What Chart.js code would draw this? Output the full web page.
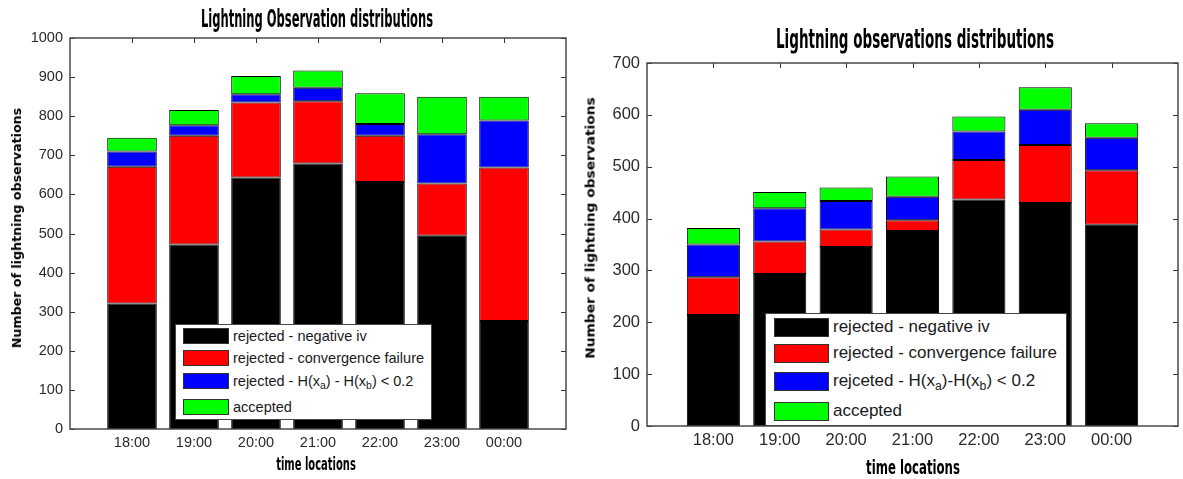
<!DOCTYPE html>
<html>
<head>
<meta charset="utf-8">
<script src="https://cdn.jsdelivr.net/npm/chart.js@4/dist/chart.umd.min.js"></script>
<style>
    body { margin: 0; background: #fff; width: 1183px; height: 479px; position: relative; overflow: hidden; }
    canvas { position: absolute; top: 0; }
    .cond { position: absolute; white-space: nowrap; color: #000; font-weight: bold; line-height: 1; }
    .legend { position: absolute; background: #fff; border: 1px solid #444; box-sizing: border-box; font-family: 'Liberation Sans', Arial, sans-serif; color: #1a1a1a; }
    .legend .row { position: absolute; display: flex; align-items: center; white-space: nowrap; }
    .legend .sw { border: 1px solid #333; box-sizing: border-box; margin-right: 4px; }
    .legend sub { font-size: 0.72em; vertical-align: -0.3em; line-height: 0; }
</style>
</head>
<body>
<canvas id="leftChart" width="590" height="479" style="left:0"></canvas>
<canvas id="rightChart" width="593" height="479" style="left:590px"></canvas>

<script>
// time slots along the x axis
const categories = ['18:00', '19:00', '20:00', '21:00', '22:00', '23:00', '00:00'];

// left panel - Lightning Observation distributions
const negIvLeft = [321, 472, 643, 679, 632, 494, 276];
const convLeft = [350, 278, 192, 159, 118, 134, 393];
const hdiffLeft = [39, 27, 21, 35, 30, 126, 120];
const acceptedLeft = [35, 39, 47, 44, 79, 96, 61];
const labelsLeft = ['rejected - negative iv', 'rejected - convergence failure', 'rejected - H(x_{a}) - H(x_{b}) < 0.2', 'accepted'];

// right panel - Lightning observations distributions
const negIvRight = [214, 293, 345, 376, 437, 430, 388];
const convRight = [73, 63, 34, 21, 76, 112, 105];
const hdiffRight = [63, 64, 55, 45, 55, 68, 63];
const acceptedRight = [32, 31, 26, 39, 29, 43, 28];
const labelsRight = ['rejected - negative iv', 'rejected - convergence failure', 'rejceted - H(x_{a})-H(x_{b}) < 0.2', 'accepted'];

const segColors = ['#000000', '#ff0000', '#0000ff', '#00ff00'];
const tickFont = "'Liberation Sans', Arial, sans-serif";

// MATLAB style ticks: inward, on all four sides
const inwardTicks = {
    id: 'inwardTicks',
    beforeDatasetsDraw(chart) {
        const { ctx, chartArea: a, scales: { x, y } } = chart;
        const len = 5;
        ctx.save();
        ctx.strokeStyle = '#333';
        ctx.lineWidth = 1;
        ctx.beginPath();
        y.ticks.forEach((t, i) => {
            const py = Math.round(y.getPixelForTick(i)) + 0.5;
            ctx.moveTo(a.left, py); ctx.lineTo(a.left + len, py);
            ctx.moveTo(a.right, py); ctx.lineTo(a.right - len, py);
        });
        x.ticks.forEach((t, i) => {
            if (!categories[t.value - 1]) return;
            const px = Math.round(x.getPixelForTick(i)) + 0.5;
            ctx.moveTo(px, a.top); ctx.lineTo(px, a.top + len);
            ctx.moveTo(px, a.bottom); ctx.lineTo(px, a.bottom - len);
        });
        ctx.stroke();
        ctx.restore();
    },
    afterDatasetsDraw(chart) {
        const { ctx, chartArea: a } = chart;
        ctx.save();
        ctx.strokeStyle = '#4a4a4a';
        ctx.lineWidth = 1.5;
        ctx.strokeRect(a.left, a.top, a.right - a.left, a.bottom - a.top);
        ctx.restore();
    }
};

function makeDatasets(series, labels) {
    return series.map((vals, k) => ({
        label: labels[k],
        data: vals.map((v, i) => ({ x: i + 1, y: v })),
        backgroundColor: segColors[k],
        borderColor: '#000',
        borderWidth: 1,
        borderSkipped: false,
        barPercentage: 0.8,
        categoryPercentage: 1.0
    }));
}

function makePanel(id, series, labels, cfg) {
    return new Chart(document.getElementById(id), {
        type: 'bar',
        data: { datasets: makeDatasets(series, labels) },
        options: {
            responsive: false,
            animation: false,
            devicePixelRatio: 1,
            layout: { padding: { left: 0, right: cfg.padRight, top: cfg.top, bottom: 0 } },
            plugins: { legend: { display: false }, tooltip: { enabled: false } },
            scales: {
                x: {
                    type: 'linear', min: 0, max: 8, offset: false, stacked: true,
                    afterFit: s => { s.height = cfg.xHeight; },
                    grid: { display: false, drawTicks: false },
                    border: { display: false },
                    ticks: {
                        stepSize: 1, autoSkip: false, maxRotation: 0, padding: cfg.xPad,
                        color: '#2a2a2a', font: { family: tickFont, size: cfg.fontSize },
                        callback: v => categories[v - 1] || ''
                    }
                },
                y: {
                    min: 0, max: cfg.yMax, stacked: true,
                    afterFit: s => { s.width = cfg.yWidth; },
                    grid: { display: false, drawTicks: false },
                    border: { display: false },
                    ticks: {
                        stepSize: 100, padding: 7,
                        color: '#2a2a2a', font: { family: tickFont, size: cfg.fontSize },
                        callback: v => String(v)
                    }
                }
            }
        },
        plugins: [inwardTicks]
    });
}

const leftChart = makePanel('leftChart', [negIvLeft, convLeft, hdiffLeft, acceptedLeft], labelsLeft,
    { top: 38, padRight: 24, xHeight: 50, yWidth: 70, yMax: 1000, fontSize: 14.5, xPad: 5 });
const rightChart = makePanel('rightChart', [negIvRight, convRight, hdiffRight, acceptedRight], labelsRight,
    { top: 63, padRight: 2, xHeight: 53, yWidth: 57, yMax: 700, fontSize: 16.5, xPad: 5 });

// condensed bold titles, squeezed to the width seen in the picture
function addText(text, cx, cy, size, targetLen, family, rotate) {
    const el = document.createElement('div');
    el.className = 'cond';
    el.textContent = text;
    el.style.fontFamily = family;
    el.style.fontSize = size + 'px';
    el.style.left = cx + 'px';
    el.style.top = cy + 'px';
    document.body.appendChild(el);
    const sx = targetLen / el.offsetWidth;
    el.style.transform = 'translate(-50%,-50%)' + (rotate ? ' rotate(-90deg)' : '') + ' scale(' + sx + ',1)';
}

const condFamily = "'DejaVu Sans Condensed', 'DejaVu Sans', sans-serif";
const boldFamily = "'DejaVu Sans', sans-serif";
addText('Lightning Observation distributions', 317, 18, 25, 232, condFamily, false);
addText('time locations', 316, 464, 18, 80, condFamily, false);
addText('Number of lightning observations', 17, 228, 12, 240, boldFamily, true);

addText('Lightning observations distributions', 915, 38, 27, 278, condFamily, false);
addText('time locations', 913, 467, 19, 94, condFamily, false);
addText('Number of lightning observations', 590, 228, 13, 261, boldFamily, true);

// legend boxes sitting inside the plot area, built from the datasets
function addLegend(chart, box) {
    const lg = document.createElement('div');
    lg.className = 'legend';
    Object.assign(lg.style, { left: box.x + 'px', top: box.y + 'px', width: box.w + 'px', height: box.h + 'px', fontSize: box.font + 'px' });
    chart.data.datasets.forEach((ds, k) => {
        const row = document.createElement('div');
        row.className = 'row';
        row.style.left = box.swLeft + 'px';
        row.style.top = box.rows[k] + 'px';
        const sw = document.createElement('div');
        sw.className = 'sw';
        sw.style.width = box.swW + 'px';
        sw.style.height = box.swH + 'px';
        sw.style.background = ds.backgroundColor;
        const txt = document.createElement('span');
        txt.innerHTML = ds.label.replace(/</g, '&lt;').replace(/_\{(.*?)\}/g, '<sub>$1</sub>');
        row.appendChild(sw);
        row.appendChild(txt);
        lg.appendChild(row);
    });
    document.body.appendChild(lg);
}

addLegend(leftChart, { x: 175, y: 324, w: 257, h: 96, font: 14.5, swLeft: 7, swW: 46, swH: 16, rows: [3, 25, 48, 74] });
addLegend(rightChart, { x: 765, y: 313, w: 302, h: 113, font: 17, swLeft: 8, swW: 55, swH: 19, rows: [3, 29, 57, 87] });
</script>
</body>
</html>
